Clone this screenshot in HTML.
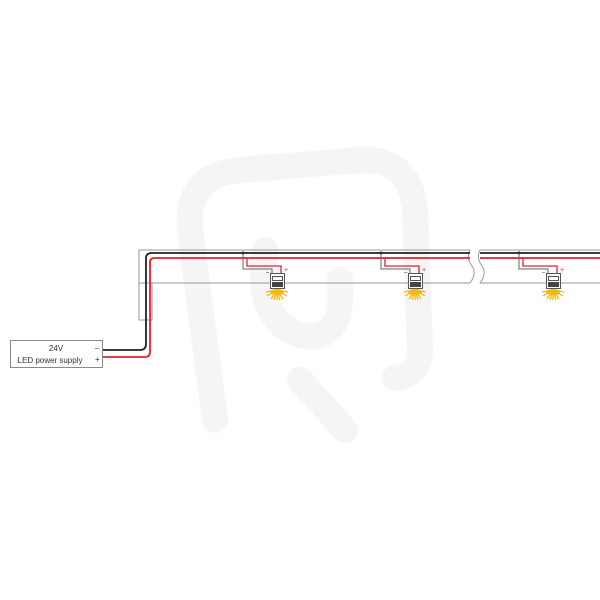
<!DOCTYPE html>
<html><head><style>body{margin:0;background:#fff}svg{display:block}</style></head><body>
<svg width="600" height="600" viewBox="0 0 600 600" xmlns="http://www.w3.org/2000/svg" font-family="Liberation Sans, sans-serif">
<!-- watermark -->
<g fill="none" stroke="#f5f5f5" stroke-width="26" stroke-linecap="round">
<path d="M215 420 L190 230 Q185 175 240 170 L360 160 Q410 158 415 210 L420 350 Q420 375 395 378"/>
<path d="M265 250 Q255 320 300 335 Q345 345 340 280"/>
<path d="M300 380 L345 430"/>
</g>
<!-- profile -->
<g fill="none" stroke="#999" stroke-width="1">
<path d="M139 320 L139 250 L470 250"/>
<path d="M152 320 L152 283 L470 283"/>
<path d="M139 320 L152 320"/>
<path d="M139 283 L152 283"/>
<path d="M480 250 L600 250"/>
<path d="M480 283 L600 283"/>
<path d="M470 250 Q466 258 472 266 Q477 274 470 283" />
<path d="M480 250 Q476 258 482 266 Q487 274 480 283" />
</g>
<!-- main wires -->
<path d="M102 350 L140 350 Q146 350 146 344 L146 258 Q146 253 152 253 L470 253 M480 253 L600 253" fill="none" stroke="#222" stroke-width="1.8"/>
<path d="M102 357 L145 357 Q150 357 150 352 L150 262 Q150 258 155 258 L470 258 M480 258 L600 258" fill="none" stroke="#e3202c" stroke-width="1.8"/>
<!-- supply -->
<rect x="10.5" y="340.5" width="92" height="27" fill="#fff" stroke="#888"/>
<text x="56" y="351" font-size="8" text-anchor="middle" fill="#333">24V</text>
<text x="50" y="363" font-size="8" text-anchor="middle" fill="#333">LED power supply</text>
<text x="95" y="351" font-size="8" fill="#333">–</text>
<text x="95" y="362" font-size="8" fill="#333">+</text>
<!-- lights -->
<g id="L">
<circle cx="243" cy="253" r="1.5" fill="#222"/>
<path d="M243 253 L243 269 L272 269 L272 273" fill="none" stroke="#666" stroke-width="1"/>
<path d="M247 258 L247 266 L281 266 L281 273" fill="none" stroke="#e3202c" stroke-width="1.3"/>
<text x="266" y="274" font-size="6" fill="#333">–</text>
<text x="284" y="272" font-size="7" fill="#e3202c">+</text>
<rect x="270.5" y="273.5" width="14" height="15" fill="#fff" stroke="#555"/>
<rect x="272.5" y="276.5" width="10" height="4" fill="#fff" stroke="#555"/>
<rect x="272" y="282" width="11" height="5" fill="#444"/>
<g stroke="#f2b90f" stroke-width="1.3">
<path d="M277 290 L277 300 M277 290 L271 299 M277 290 L283 299 M277 290 L267 296 M277 290 L287 296 M277 290 L266 292 M277 290 L288 292 M277 290 L274 300 M277 290 L280 300"/>
</g>
<ellipse cx="277" cy="292" rx="7" ry="3" fill="#f2b90f"/>
</g>
<use href="#L" transform="translate(138 0)"/>
<use href="#L" transform="translate(276 0)"/>
</svg>
</body></html>
